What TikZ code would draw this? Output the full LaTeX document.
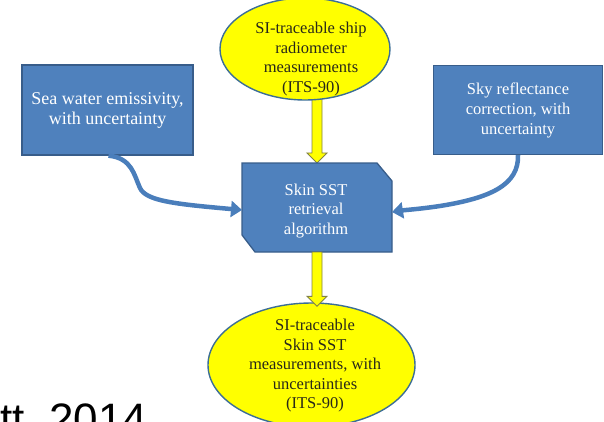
\documentclass[tikz,border=0pt]{standalone}
\usepackage{fontspec}
\setmainfont{Liberation Serif}
\newfontfamily\citefont{Liberation Sans}
\usetikzlibrary{shapes.geometric,arrows.meta,calc}
\definecolor{boxblue}{RGB}{79,129,189}
\definecolor{boxedge}{RGB}{56,93,138}
\definecolor{ellline}{RGB}{60,110,150}
\definecolor{ylw}{RGB}{255,255,0}
\definecolor{yline}{RGB}{130,130,70}
\definecolor{etext}{RGB}{40,40,25}
\definecolor{curveblue}{RGB}{74,126,187}
\pgfdeclarelayer{bg}
\pgfsetlayers{bg,main}
\tikzset{
  ell/.style={ellipse, fill=ylw, draw=ellline, line width=1.4pt, inner sep=0},
  etxt/.style={align=center, text=etext, font=\fontsize{16.5}{19.5}\selectfont, inner sep=0},
  bluebox/.style={rectangle, fill=boxblue, draw=boxedge, line width=1.3pt, inner sep=0, align=center, text=white},
  wtxt/.style={align=center, text=white, font=\fontsize{16.5}{19.5}\selectfont, inner sep=0},
  yarrow/.style={fill=ylw, draw=yline, line width=0.9pt, line join=miter},
  curvearrow/.style={draw=curveblue, line width=4.5pt, -{Triangle[length=11pt,width=16pt]}},
}
\begin{document}
\begin{tikzpicture}[x=1pt,y=-1pt]
\useasboundingbox (0,0) rectangle (604,422);
\clip (0,0) rectangle (604,422);

% top ellipse
\node[ell, minimum width=170pt, minimum height=102pt] (top) at (305,49) {};
\node[etxt] (toptxt) at (311,59) {SI-traceable ship\\radiometer\\measurements\\(ITS-90)};

% side boxes
\node[bluebox, minimum width=171pt, minimum height=90pt, font=\fontsize{18}{20}\selectfont] (sea) at (107.5,110) {Sea water emissivity,\\with uncertainty};
\node[bluebox, minimum width=169pt, minimum height=89pt, font=\fontsize{16.5}{20}\selectfont] (sky) at (518,110) {Sky reflectance\\correction, with\\uncertainty};

% central chamfered box
\node[minimum width=150pt, minimum height=89pt, inner sep=0, outer sep=0] (alg) at (317,207.5) {};
\draw[fill=boxblue, draw=boxedge, line width=1.3pt]
  (alg.north west) -- ([xshift=-15pt]alg.north east) -- ([yshift=-18pt]alg.north east)
  -- (alg.south east) -- ([xshift=13pt]alg.south west) -- ([yshift=17pt]alg.south west) -- cycle;
\node[wtxt] (algtxt) at (316,211) {Skin SST\\retrieval\\algorithm};

% bottom ellipse
\node[ell, minimum width=207pt, minimum height=124pt] (bot) at (311.5,365) {};
\node[etxt] (bottxt) at (315,366) {SI-traceable\\Skin SST\\measurements, with\\uncertainties\\(ITS-90)};

% yellow block arrows
\coordinate (ta) at (alg.north |- top.south);
\begin{pgfonlayer}{bg}
\draw[yarrow] ($(ta)+(-5,-4)$) -- ($(alg.north)+(-5,-10)$) -- ($(alg.north)+(-10,-10)$)
  -- (alg.north) -- ($(alg.north)+(10,-10)$) -- ($(alg.north)+(5,-10)$) -- ($(ta)+(5,-4)$) -- cycle;
\end{pgfonlayer}
\coordinate (bt) at ($(alg.south |- bot.north)+(0,4)$);
\draw[yarrow] ($(alg.south)+(-5,0)$) -- ($(bt)+(-5,-10)$) -- ($(bt)+(-10,-10)$)
  -- (bt) -- ($(bt)+(10,-10)$) -- ($(bt)+(5,-10)$) -- ($(alg.south)+(5,0)$) -- cycle;

% curved blue arrows
\draw[curvearrow] ($(sea.south)+(1,0)$) .. controls (132,158) and (134,175) .. (140,188)
  .. controls (146,201) and (175,204) .. ($(alg.west)+(0,2.5)$);
\draw[curvearrow] (sky.south) .. controls (519,185) and (490,198) .. (440,206)
  .. controls (420,209) and (405,210) .. ($(alg.east)+(0,4.5)$);

% cropped citation
\node[font=\citefont\fontsize{44}{44}\selectfont, anchor=base west, inner sep=0, text=black] (cite) at (0,434) {tt, 2014};
\end{tikzpicture}
\end{document}
